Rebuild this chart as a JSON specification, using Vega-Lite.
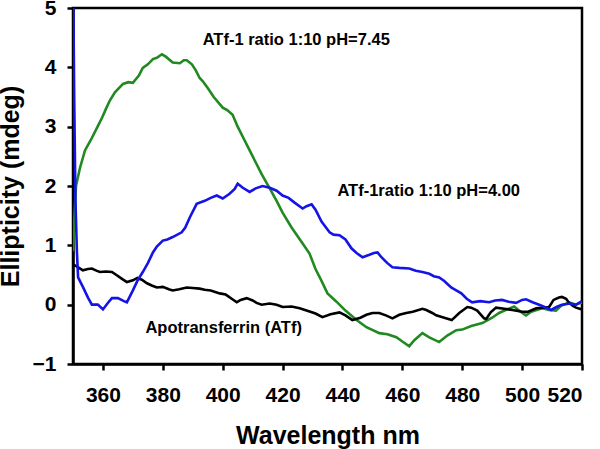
{
  "$schema": "https://vega.github.io/schema/vega-lite/v6.json",
  "width": 509,
  "height": 356,
  "autosize": {"type": "none"},
  "padding": {"left": 73, "top": 8, "right": 18, "bottom": 85},
  "background": "white",
  "config": {
    "view": {"stroke": "black", "strokeWidth": 2.5},
    "axis": {
      "grid": false,
      "domainColor": "black",
      "domainWidth": 2.5,
      "tickColor": "black",
      "tickWidth": 2.5,
      "tickSize": 6,
      "labelFont": "Liberation Sans",
      "labelFontWeight": "bold",
      "labelFontSize": 21,
      "labelColor": "black",
      "titleFont": "Liberation Sans",
      "titleFontWeight": "bold",
      "titleFontSize": 25,
      "titleColor": "black"
    }
  },
  "datasets": {
    "curves": [
      {"s": "pH 7.45", "x": 350, "y": 0.9},
      {"s": "pH 7.45", "x": 350.5, "y": 1.5},
      {"s": "pH 7.45", "x": 351, "y": 2.0},
      {"s": "pH 7.45", "x": 352.3, "y": 2.3},
      {"s": "pH 7.45", "x": 354, "y": 2.6},
      {"s": "pH 7.45", "x": 356, "y": 2.78},
      {"s": "pH 7.45", "x": 358, "y": 2.98},
      {"s": "pH 7.45", "x": 359.7, "y": 3.15},
      {"s": "pH 7.45", "x": 361, "y": 3.3},
      {"s": "pH 7.45", "x": 362.3, "y": 3.44},
      {"s": "pH 7.45", "x": 364, "y": 3.58},
      {"s": "pH 7.45", "x": 366.7, "y": 3.72},
      {"s": "pH 7.45", "x": 368.5, "y": 3.75},
      {"s": "pH 7.45", "x": 370, "y": 3.74},
      {"s": "pH 7.45", "x": 372, "y": 3.86},
      {"s": "pH 7.45", "x": 373.3, "y": 3.99},
      {"s": "pH 7.45", "x": 375, "y": 4.05},
      {"s": "pH 7.45", "x": 376.7, "y": 4.14},
      {"s": "pH 7.45", "x": 378, "y": 4.16},
      {"s": "pH 7.45", "x": 379.7, "y": 4.22},
      {"s": "pH 7.45", "x": 381, "y": 4.18},
      {"s": "pH 7.45", "x": 383.3, "y": 4.08},
      {"s": "pH 7.45", "x": 385.7, "y": 4.07},
      {"s": "pH 7.45", "x": 387, "y": 4.12},
      {"s": "pH 7.45", "x": 388, "y": 4.12},
      {"s": "pH 7.45", "x": 389.7, "y": 4.05},
      {"s": "pH 7.45", "x": 391, "y": 3.95},
      {"s": "pH 7.45", "x": 392.3, "y": 3.82},
      {"s": "pH 7.45", "x": 393.3, "y": 3.77},
      {"s": "pH 7.45", "x": 395, "y": 3.65},
      {"s": "pH 7.45", "x": 397, "y": 3.5},
      {"s": "pH 7.45", "x": 400, "y": 3.32},
      {"s": "pH 7.45", "x": 401.5, "y": 3.28},
      {"s": "pH 7.45", "x": 403.3, "y": 3.2},
      {"s": "pH 7.45", "x": 405, "y": 3.0},
      {"s": "pH 7.45", "x": 407, "y": 2.8},
      {"s": "pH 7.45", "x": 409, "y": 2.6},
      {"s": "pH 7.45", "x": 411, "y": 2.4},
      {"s": "pH 7.45", "x": 413, "y": 2.2},
      {"s": "pH 7.45", "x": 415.7, "y": 1.96},
      {"s": "pH 7.45", "x": 418, "y": 1.75},
      {"s": "pH 7.45", "x": 420, "y": 1.55},
      {"s": "pH 7.45", "x": 423, "y": 1.3},
      {"s": "pH 7.45", "x": 426.7, "y": 1.03},
      {"s": "pH 7.45", "x": 429, "y": 0.86},
      {"s": "pH 7.45", "x": 431, "y": 0.6},
      {"s": "pH 7.45", "x": 433, "y": 0.4},
      {"s": "pH 7.45", "x": 435, "y": 0.19},
      {"s": "pH 7.45", "x": 438, "y": 0.05},
      {"s": "pH 7.45", "x": 441, "y": -0.1},
      {"s": "pH 7.45", "x": 444.7, "y": -0.26},
      {"s": "pH 7.45", "x": 448, "y": -0.38},
      {"s": "pH 7.45", "x": 452.3, "y": -0.48},
      {"s": "pH 7.45", "x": 455, "y": -0.5},
      {"s": "pH 7.45", "x": 458, "y": -0.55},
      {"s": "pH 7.45", "x": 460, "y": -0.62},
      {"s": "pH 7.45", "x": 462.3, "y": -0.7},
      {"s": "pH 7.45", "x": 464, "y": -0.6},
      {"s": "pH 7.45", "x": 466.7, "y": -0.48},
      {"s": "pH 7.45", "x": 469, "y": -0.55},
      {"s": "pH 7.45", "x": 472.3, "y": -0.63},
      {"s": "pH 7.45", "x": 475, "y": -0.52},
      {"s": "pH 7.45", "x": 478, "y": -0.43},
      {"s": "pH 7.45", "x": 480, "y": -0.42},
      {"s": "pH 7.45", "x": 483, "y": -0.36},
      {"s": "pH 7.45", "x": 486.7, "y": -0.31},
      {"s": "pH 7.45", "x": 490, "y": -0.22},
      {"s": "pH 7.45", "x": 492.3, "y": -0.14},
      {"s": "pH 7.45", "x": 495, "y": -0.08},
      {"s": "pH 7.45", "x": 497.3, "y": -0.03},
      {"s": "pH 7.45", "x": 499, "y": -0.1},
      {"s": "pH 7.45", "x": 501.3, "y": -0.18},
      {"s": "pH 7.45", "x": 503, "y": -0.12},
      {"s": "pH 7.45", "x": 506.7, "y": -0.06},
      {"s": "pH 7.45", "x": 509, "y": -0.09},
      {"s": "pH 7.45", "x": 511.3, "y": -0.1},
      {"s": "pH 7.45", "x": 513, "y": -0.02},
      {"s": "pH 7.45", "x": 515.7, "y": 0.04},
      {"s": "pH 7.45", "x": 518, "y": 0.0},
      {"s": "pH 7.45", "x": 520, "y": 0.04},

      {"s": "ATf", "x": 350, "y": 0.68},
      {"s": "ATf", "x": 350.7, "y": 0.66},
      {"s": "ATf", "x": 352, "y": 0.62},
      {"s": "ATf", "x": 353.3, "y": 0.58},
      {"s": "ATf", "x": 355, "y": 0.6},
      {"s": "ATf", "x": 356.3, "y": 0.61},
      {"s": "ATf", "x": 358, "y": 0.57},
      {"s": "ATf", "x": 359, "y": 0.55},
      {"s": "ATf", "x": 361, "y": 0.56},
      {"s": "ATf", "x": 363, "y": 0.55},
      {"s": "ATf", "x": 364.5, "y": 0.5},
      {"s": "ATf", "x": 366.5, "y": 0.43},
      {"s": "ATf", "x": 368, "y": 0.38},
      {"s": "ATf", "x": 370, "y": 0.41},
      {"s": "ATf", "x": 371.5, "y": 0.45},
      {"s": "ATf", "x": 373, "y": 0.42},
      {"s": "ATf", "x": 374.7, "y": 0.36},
      {"s": "ATf", "x": 376.5, "y": 0.32},
      {"s": "ATf", "x": 378, "y": 0.29},
      {"s": "ATf", "x": 380, "y": 0.3},
      {"s": "ATf", "x": 382, "y": 0.26},
      {"s": "ATf", "x": 383.3, "y": 0.24},
      {"s": "ATf", "x": 385.5, "y": 0.26},
      {"s": "ATf", "x": 388, "y": 0.29},
      {"s": "ATf", "x": 390, "y": 0.28},
      {"s": "ATf", "x": 392.3, "y": 0.27},
      {"s": "ATf", "x": 394, "y": 0.25},
      {"s": "ATf", "x": 396, "y": 0.24},
      {"s": "ATf", "x": 399, "y": 0.19},
      {"s": "ATf", "x": 401, "y": 0.17},
      {"s": "ATf", "x": 403, "y": 0.1},
      {"s": "ATf", "x": 404.7, "y": 0.04},
      {"s": "ATf", "x": 406, "y": 0.08},
      {"s": "ATf", "x": 408, "y": 0.11},
      {"s": "ATf", "x": 410, "y": 0.07},
      {"s": "ATf", "x": 411.3, "y": 0.03},
      {"s": "ATf", "x": 413, "y": 0.0},
      {"s": "ATf", "x": 415.7, "y": 0.02},
      {"s": "ATf", "x": 418, "y": 0.0},
      {"s": "ATf", "x": 420, "y": -0.04},
      {"s": "ATf", "x": 423, "y": -0.03},
      {"s": "ATf", "x": 425.7, "y": -0.06},
      {"s": "ATf", "x": 428, "y": -0.1},
      {"s": "ATf", "x": 431, "y": -0.15},
      {"s": "ATf", "x": 433.3, "y": -0.21},
      {"s": "ATf", "x": 436, "y": -0.16},
      {"s": "ATf", "x": 439, "y": -0.13},
      {"s": "ATf", "x": 441, "y": -0.18},
      {"s": "ATf", "x": 443.3, "y": -0.26},
      {"s": "ATf", "x": 446, "y": -0.22},
      {"s": "ATf", "x": 448, "y": -0.17},
      {"s": "ATf", "x": 450, "y": -0.14},
      {"s": "ATf", "x": 452.3, "y": -0.14},
      {"s": "ATf", "x": 454.5, "y": -0.18},
      {"s": "ATf", "x": 456.7, "y": -0.23},
      {"s": "ATf", "x": 459, "y": -0.17},
      {"s": "ATf", "x": 461.3, "y": -0.14},
      {"s": "ATf", "x": 463.5, "y": -0.12},
      {"s": "ATf", "x": 466.7, "y": -0.07},
      {"s": "ATf", "x": 468, "y": -0.09},
      {"s": "ATf", "x": 470, "y": -0.14},
      {"s": "ATf", "x": 471.3, "y": -0.18},
      {"s": "ATf", "x": 474, "y": -0.22},
      {"s": "ATf", "x": 476.5, "y": -0.26},
      {"s": "ATf", "x": 479, "y": -0.14},
      {"s": "ATf", "x": 481.7, "y": -0.04},
      {"s": "ATf", "x": 483, "y": -0.05},
      {"s": "ATf", "x": 485, "y": -0.1},
      {"s": "ATf", "x": 487.3, "y": -0.23},
      {"s": "ATf", "x": 488, "y": -0.24},
      {"s": "ATf", "x": 489.5, "y": -0.13},
      {"s": "ATf", "x": 491.3, "y": -0.05},
      {"s": "ATf", "x": 494, "y": -0.07},
      {"s": "ATf", "x": 496.7, "y": -0.09},
      {"s": "ATf", "x": 500, "y": -0.12},
      {"s": "ATf", "x": 502, "y": -0.12},
      {"s": "ATf", "x": 504.7, "y": -0.06},
      {"s": "ATf", "x": 507, "y": -0.05},
      {"s": "ATf", "x": 509, "y": -0.04},
      {"s": "ATf", "x": 510.5, "y": 0.08},
      {"s": "ATf", "x": 512.3, "y": 0.12},
      {"s": "ATf", "x": 513.3, "y": 0.13},
      {"s": "ATf", "x": 514.7, "y": 0.1},
      {"s": "ATf", "x": 515.7, "y": 0.03},
      {"s": "ATf", "x": 517, "y": -0.02},
      {"s": "ATf", "x": 518, "y": -0.05},
      {"s": "ATf", "x": 520, "y": -0.08},

      {"s": "pH 4.00", "x": 350, "y": 5.8},
      {"s": "pH 4.00", "x": 350.4, "y": 3.5},
      {"s": "pH 4.00", "x": 350.8, "y": 1.8},
      {"s": "pH 4.00", "x": 351.3, "y": 0.9},
      {"s": "pH 4.00", "x": 351.7, "y": 0.46},
      {"s": "pH 4.00", "x": 353.3, "y": 0.3},
      {"s": "pH 4.00", "x": 355, "y": 0.12},
      {"s": "pH 4.00", "x": 356.3, "y": 0.0},
      {"s": "pH 4.00", "x": 358.3, "y": 0.0},
      {"s": "pH 4.00", "x": 360, "y": -0.08},
      {"s": "pH 4.00", "x": 361.5, "y": 0.02},
      {"s": "pH 4.00", "x": 363, "y": 0.11},
      {"s": "pH 4.00", "x": 365, "y": 0.11},
      {"s": "pH 4.00", "x": 367, "y": 0.06},
      {"s": "pH 4.00", "x": 368, "y": 0.04},
      {"s": "pH 4.00", "x": 370, "y": 0.24},
      {"s": "pH 4.00", "x": 371.5, "y": 0.4},
      {"s": "pH 4.00", "x": 373.3, "y": 0.55},
      {"s": "pH 4.00", "x": 375, "y": 0.7},
      {"s": "pH 4.00", "x": 376.7, "y": 0.88},
      {"s": "pH 4.00", "x": 378, "y": 0.98},
      {"s": "pH 4.00", "x": 380, "y": 1.08},
      {"s": "pH 4.00", "x": 381.5, "y": 1.1},
      {"s": "pH 4.00", "x": 383.3, "y": 1.14},
      {"s": "pH 4.00", "x": 386.3, "y": 1.22},
      {"s": "pH 4.00", "x": 387.5, "y": 1.3},
      {"s": "pH 4.00", "x": 389, "y": 1.47},
      {"s": "pH 4.00", "x": 391.3, "y": 1.7},
      {"s": "pH 4.00", "x": 394, "y": 1.75},
      {"s": "pH 4.00", "x": 396, "y": 1.8},
      {"s": "pH 4.00", "x": 398, "y": 1.84},
      {"s": "pH 4.00", "x": 400, "y": 1.79},
      {"s": "pH 4.00", "x": 402.3, "y": 1.87},
      {"s": "pH 4.00", "x": 404, "y": 1.95},
      {"s": "pH 4.00", "x": 405, "y": 2.04},
      {"s": "pH 4.00", "x": 406.7, "y": 1.97},
      {"s": "pH 4.00", "x": 409, "y": 1.9},
      {"s": "pH 4.00", "x": 411, "y": 1.96},
      {"s": "pH 4.00", "x": 413.3, "y": 2.0},
      {"s": "pH 4.00", "x": 415.7, "y": 1.97},
      {"s": "pH 4.00", "x": 418, "y": 1.92},
      {"s": "pH 4.00", "x": 420, "y": 1.84},
      {"s": "pH 4.00", "x": 422, "y": 1.8},
      {"s": "pH 4.00", "x": 424, "y": 1.72},
      {"s": "pH 4.00", "x": 426.7, "y": 1.62},
      {"s": "pH 4.00", "x": 428, "y": 1.66},
      {"s": "pH 4.00", "x": 429.7, "y": 1.69},
      {"s": "pH 4.00", "x": 431, "y": 1.6},
      {"s": "pH 4.00", "x": 433, "y": 1.4},
      {"s": "pH 4.00", "x": 435.7, "y": 1.22},
      {"s": "pH 4.00", "x": 437, "y": 1.18},
      {"s": "pH 4.00", "x": 439, "y": 1.17},
      {"s": "pH 4.00", "x": 441, "y": 1.1},
      {"s": "pH 4.00", "x": 443, "y": 0.95},
      {"s": "pH 4.00", "x": 444.7, "y": 0.87},
      {"s": "pH 4.00", "x": 446.7, "y": 0.8},
      {"s": "pH 4.00", "x": 449, "y": 0.84},
      {"s": "pH 4.00", "x": 450.5, "y": 0.87},
      {"s": "pH 4.00", "x": 451.7, "y": 0.88},
      {"s": "pH 4.00", "x": 453, "y": 0.8},
      {"s": "pH 4.00", "x": 455, "y": 0.7},
      {"s": "pH 4.00", "x": 456.7, "y": 0.63},
      {"s": "pH 4.00", "x": 459, "y": 0.62},
      {"s": "pH 4.00", "x": 462.3, "y": 0.61},
      {"s": "pH 4.00", "x": 464.5, "y": 0.57},
      {"s": "pH 4.00", "x": 466.7, "y": 0.55},
      {"s": "pH 4.00", "x": 469, "y": 0.52},
      {"s": "pH 4.00", "x": 470.5, "y": 0.48},
      {"s": "pH 4.00", "x": 472.3, "y": 0.46},
      {"s": "pH 4.00", "x": 474, "y": 0.4},
      {"s": "pH 4.00", "x": 476.3, "y": 0.29},
      {"s": "pH 4.00", "x": 478, "y": 0.24},
      {"s": "pH 4.00", "x": 479.7, "y": 0.19},
      {"s": "pH 4.00", "x": 481.5, "y": 0.1},
      {"s": "pH 4.00", "x": 483.3, "y": 0.04},
      {"s": "pH 4.00", "x": 486, "y": 0.06},
      {"s": "pH 4.00", "x": 489, "y": 0.04},
      {"s": "pH 4.00", "x": 491, "y": 0.07},
      {"s": "pH 4.00", "x": 493.3, "y": 0.08},
      {"s": "pH 4.00", "x": 495.5, "y": 0.05},
      {"s": "pH 4.00", "x": 498, "y": 0.03},
      {"s": "pH 4.00", "x": 500, "y": 0.08},
      {"s": "pH 4.00", "x": 501.3, "y": 0.09},
      {"s": "pH 4.00", "x": 503.5, "y": 0.04},
      {"s": "pH 4.00", "x": 505.7, "y": 0.0},
      {"s": "pH 4.00", "x": 507.5, "y": -0.04},
      {"s": "pH 4.00", "x": 509.7, "y": -0.09},
      {"s": "pH 4.00", "x": 511.5, "y": -0.04},
      {"s": "pH 4.00", "x": 513.3, "y": 0.0},
      {"s": "pH 4.00", "x": 516, "y": 0.02},
      {"s": "pH 4.00", "x": 518, "y": 0.0},
      {"s": "pH 4.00", "x": 520, "y": 0.06}
    ],
    "labels": [
      {"x": 393.3, "y": 4.46, "text": "ATf-1 ratio 1:10 pH=7.45"},
      {"x": 438.3, "y": 1.92, "text": "ATf-1ratio 1:10 pH=4.00"},
      {"x": 374.2, "y": -0.39, "text": "Apotransferrin (ATf)"}
    ]
  },
  "layer": [
    {
      "data": {"name": "curves"},
      "mark": {"type": "line", "strokeWidth": 2.6, "clip": true, "interpolate": "linear"},
      "encoding": {
        "x": {
          "field": "x", "type": "quantitative",
          "scale": {"domain": [350, 520], "nice": false, "zero": false},
          "axis": {"title": "Wavelength nm", "format": "d", "values": [360, 380, 400, 420, 440, 460, 480, 500, 520], "labelPadding": 14, "titlePadding": 18}
        },
        "y": {
          "field": "y", "type": "quantitative",
          "scale": {"domain": [-1, 5], "nice": false, "zero": false},
          "axis": {"title": "Ellipticity (mdeg)", "format": "d", "values": [-1, 0, 1, 2, 3, 4, 5], "labelPadding": 11, "titlePadding": 9}
        },
        "color": {
          "field": "s", "type": "nominal",
          "scale": {"domain": ["pH 7.45", "ATf", "pH 4.00"], "range": ["#208a20", "#000000", "#1414e6"]},
          "legend": null
        },
        "order": {"field": "x", "type": "quantitative"}
      }
    },
    {
      "data": {"name": "labels"},
      "mark": {"type": "text", "align": "left", "baseline": "middle", "font": "Liberation Sans", "fontWeight": "bold", "fontSize": 16.5, "color": "black"},
      "encoding": {
        "x": {"field": "x", "type": "quantitative"},
        "y": {"field": "y", "type": "quantitative"},
        "text": {"field": "text"}
      }
    }
  ]
}
